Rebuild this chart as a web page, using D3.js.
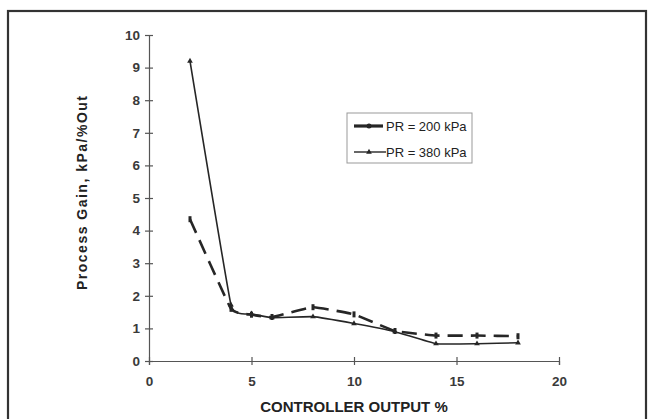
<!DOCTYPE html>
<html><head><meta charset="utf-8">
<script src="https://cdn.jsdelivr.net/npm/d3@7"></script>
<style>body{margin:0;background:#fff}svg{display:block}</style>
</head><body>
<svg id="c" width="651" height="419"></svg>
<script>
const xValues = [2, 4, 5, 6, 8, 10, 12, 14, 16, 18];
const pr200 = [4.35, 1.6, 1.42, 1.35, 1.65, 1.43, 0.92, 0.78, 0.78, 0.76];
const pr380 = [9.2, 1.72, 1.45, 1.33, 1.36, 1.15, 0.9, 0.53, 0.53, 0.56];
const seriesNames = ["PR = 200 kPa", "PR = 380 kPa"];
const xTicks = [0, 5, 10, 15, 20];
const yTicks = [0, 1, 2, 3, 4, 5, 6, 7, 8, 9, 10];

const svg = d3.select("#c");
const ink = "#262626";
const font = "Liberation Sans, Arial, sans-serif";
svg.append("rect").attr("x", 8).attr("y", 11).attr("width", 638).attr("height", 420)
  .attr("fill", "none").attr("stroke", "#333").attr("stroke-width", 2.2);

const x = d3.scaleLinear().domain([0, 20]).range([149, 559]);
const y = d3.scaleLinear().domain([0, 10]).range([361, 35]);

const gx = svg.append("g").attr("transform", `translate(0,${y(0)})`)
  .call(d3.axisBottom(x).tickValues(xTicks).tickSize(4).tickPadding(11));
const gy = svg.append("g").attr("transform", `translate(${x(0)},0)`)
  .call(d3.axisLeft(y).tickValues(yTicks).tickSize(4).tickPadding(5));
[gx, gy].forEach(g => {
  g.select(".domain").attr("stroke", "#555").attr("stroke-width", 1.2);
  g.selectAll(".tick line").attr("stroke", "#555").attr("stroke-width", 1.2);
  g.selectAll("text").attr("font-family", font)
    .attr("font-size", 13.5).attr("font-weight", "bold").attr("fill", "#3a3a3a");
});
gx.selectAll(".tick line").attr("y1", -4).attr("y2", 4);
gy.selectAll(".tick line").attr("x1", -4).attr("x2", 4);

const line = d3.line().x((d, i) => x(xValues[i])).y(d => y(d))
  .curve(d3.curveCardinal.tension(0.7));

svg.append("path").datum(pr200).attr("d", line).attr("fill", "none")
  .attr("stroke", ink).attr("stroke-width", 2.6).attr("stroke-dasharray", "15,8");
svg.append("path").datum(pr380).attr("d", line).attr("fill", "none")
  .attr("stroke", ink).attr("stroke-width", 1.6);

svg.selectAll(".m1").data(pr200).enter().append("rect")
  .attr("x", (d, i) => x(xValues[i]) - 1.5).attr("y", d => y(d) - 3)
  .attr("width", 3).attr("height", 6).attr("fill", ink);
svg.selectAll(".m2").data(pr380).enter().append("path")
  .attr("d", d3.symbol(d3.symbolTriangle, 14))
  .attr("transform", (d, i) => `translate(${x(xValues[i])},${y(d)})`).attr("fill", ink);

// legend
const lg = svg.append("g");
lg.append("rect").attr("x", 347).attr("y", 113).attr("width", 125).attr("height", 50)
  .attr("fill", "#fff").attr("stroke", "#999").attr("stroke-width", 1);
lg.append("line").attr("x1", 354).attr("x2", 383).attr("y1", 126).attr("y2", 126)
  .attr("stroke", ink).attr("stroke-width", 3.2);
lg.append("circle").attr("cx", 369).attr("cy", 126).attr("r", 2.5).attr("fill", ink);
lg.append("line").attr("x1", 354).attr("x2", 386).attr("y1", 152).attr("y2", 152)
  .attr("stroke", ink).attr("stroke-width", 1.4);
lg.append("path").attr("d", d3.symbol(d3.symbolTriangle, 14))
  .attr("transform", "translate(369,152)").attr("fill", ink);
lg.selectAll("text").data(seriesNames).enter().append("text")
  .attr("x", 386).attr("y", (d, i) => i ? 156.5 : 130.5).text(d => d)
  .attr("font-family", font).attr("font-size", 13).attr("fill", "#222");

// axis titles
svg.append("text").attr("x", 354).attr("y", 412).attr("text-anchor", "middle")
  .attr("font-family", font).attr("font-size", 15)
  .attr("font-weight", "bold").attr("fill", "#222").text("CONTROLLER OUTPUT %");
svg.append("text").attr("transform", "translate(87,193) rotate(-90)").attr("text-anchor", "middle")
  .attr("font-family", font).attr("font-size", 14)
  .attr("textLength", 194).attr("lengthAdjust", "spacing")
  .attr("font-weight", "bold").attr("fill", "#222").text("Process Gain, kPa/%Out");
</script>
</body></html>
